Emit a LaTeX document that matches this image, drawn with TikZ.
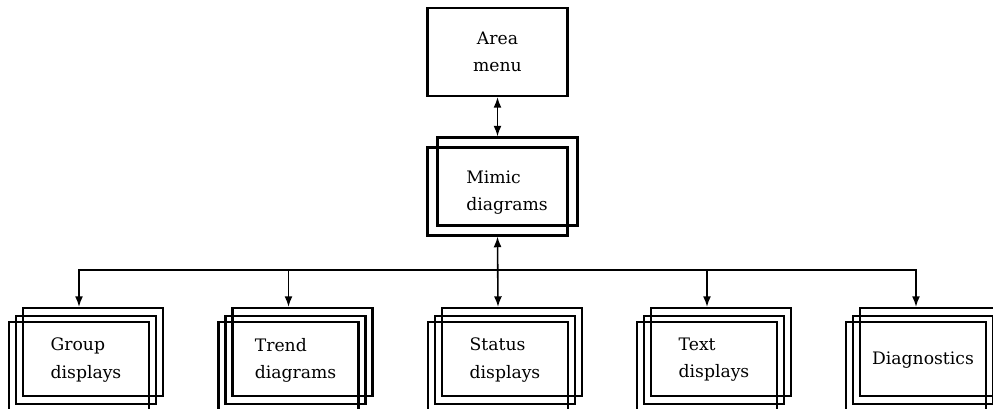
\documentclass[tikz,border=0pt]{standalone}
\usepackage{fontspec}
\setmainfont{DejaVu Serif}
\usetikzlibrary{arrows.meta}
\usetikzlibrary{positioning}

\tikzset{
  win/.style={draw, line width=1.6pt, minimum width=105pt, minimum height=66pt, inner sep=0pt},
  lbl/.style={align=left, font=\fontsize{12.9}{20.3}\selectfont},
  link/.style={line width=1.2pt, -{Latex[length=8pt,width=6pt]}},
  twoway/.style={line width=1.2pt, {Latex[length=8pt,width=6pt]}-{Latex[length=8pt,width=6pt]}},
}

\begin{document}
\begin{tikzpicture}[x=0.75pt, y=-0.75pt] % one unit = one pixel of the sketch

  \useasboundingbox (0,0) rectangle (993,408);

  % top of the tree
  \node [win, lbl, align=center] (area) at (497.5,52) {Area\\menu};
  \node [win] (mimb) at (507.5,181.5) {};
  \node [win, fill=none] (mimf) at (497.5,191.5) {};
  \node [lbl] (miml) at (507,193) {Mimic\\diagrams};

  % the five stacks of windows
  \foreach \n/\xx/\txt in {grp/86/{Group\\displays}, trd/295.5/{Trend\\diagrams},
                          sts/505/{Status\\displays}, txt/714/{Text\\displays},
                          dia/923/{Diagnostics}} {
    \node [win] (\n b) at (\xx+7,352) {};
    \node [win, lbl] (\n) at (\xx,360) {\txt};
    \node [win] (\n f) at (\xx-7,366) {};
  }

  \draw [twoway] (area.south) -- (area.south |- mimb.north);
  \draw [twoway] (mimf.south) -- (stsf.north |- stsb.north);

  \coordinate (bus) at (498,270);
  \foreach \n in {grp, trd, txt, dia}
    \draw [link] (bus) -| (\n f.north |- \n b.north);

\end{tikzpicture}
\end{document}
